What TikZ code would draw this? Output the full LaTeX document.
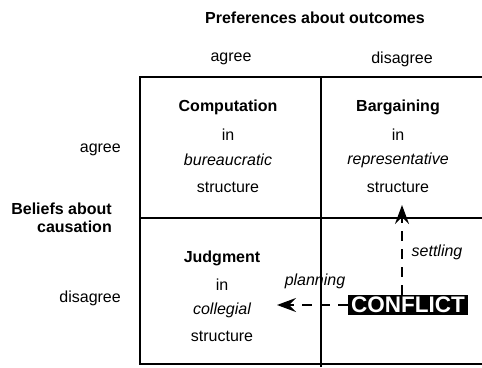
\documentclass[tikz,border=0pt]{standalone}
\usepackage{fontspec}
\setmainfont{Liberation Sans}
\usetikzlibrary{arrows.meta}
\tikzset{
  lbl/.style={inner sep=0pt, font=\fontsize{16}{18}\selectfont},
  blbl/.style={inner sep=0pt, font=\fontsize{16}{18}\selectfont\bfseries},
  ilbl/.style={inner sep=0pt, font=\fontsize{16}{18}\selectfont\itshape},
  grid/.style={line width=2pt},
  flow/.style={line width=2pt, dash pattern=on 10pt off 8pt, -{Stealth[length=19pt,width=14pt,inset=7pt]}},
  conflictbox/.style={fill=black, text=white, inner xsep=3pt, inner ysep=2pt, font=\fontsize{22.5}{24}\selectfont\bfseries}
}
\begin{document}
\begin{tikzpicture}[x=1pt,y=-1pt]
\useasboundingbox (0,0) rectangle (482,367);
% grid
\draw[grid] (482,77) -- (140,77) -- (140,364) -- (482,364);
\draw[grid] (321,77) -- (321,367);
\draw[grid] (140,218) -- (482,218);
% headings
\node[blbl] (pref) at (315,18) {Preferences about outcomes};
\node[lbl] (colA) at (231,59) {agree};
\node[lbl] (colD) at (402,59) {disagree};
\node[lbl, anchor=east] (rowA) at (121,150) {agree};
\node[blbl, anchor=east, align=right] (beliefs) at (112,218) {Beliefs about\\causation};
\node[lbl, anchor=east] (rowD) at (121,298) {disagree};
% cells
\node[blbl] (comp) at (228,107) {Computation};
\node[lbl] (compin) at (228,135) {in};
\node[ilbl] (compb) at (228,160) {bureaucratic};
\node[lbl] (comps) at (228,187) {structure};
\node[blbl] (barg) at (398,107) {Bargaining};
\node[lbl] (bargin) at (398,135) {in};
\node[ilbl] (bargr) at (398,160) {representative};
\node[lbl] (bargs) at (398,187) {structure};
\node[blbl] (judg) at (222,258) {Judgment};
\node[lbl] (judgin) at (222,285) {in};
\node[ilbl] (judgc) at (222,310) {collegial};
\node[lbl] (judgs) at (222,336) {structure};
% conflict
\node[conflictbox] (conflict) at (408,305) {CONFLICT};
\coordinate (settleTip) at (402,205);
\coordinate (planTip) at (277,305);
\draw[flow] (settleTip |- conflict.north) -- (settleTip);
\draw[flow] (conflict.west) -- (planTip);
\node[ilbl] (settling) at (437,252) {settling};
\node[ilbl] (planning) at (315,281) {planning};
\end{tikzpicture}
\end{document}
